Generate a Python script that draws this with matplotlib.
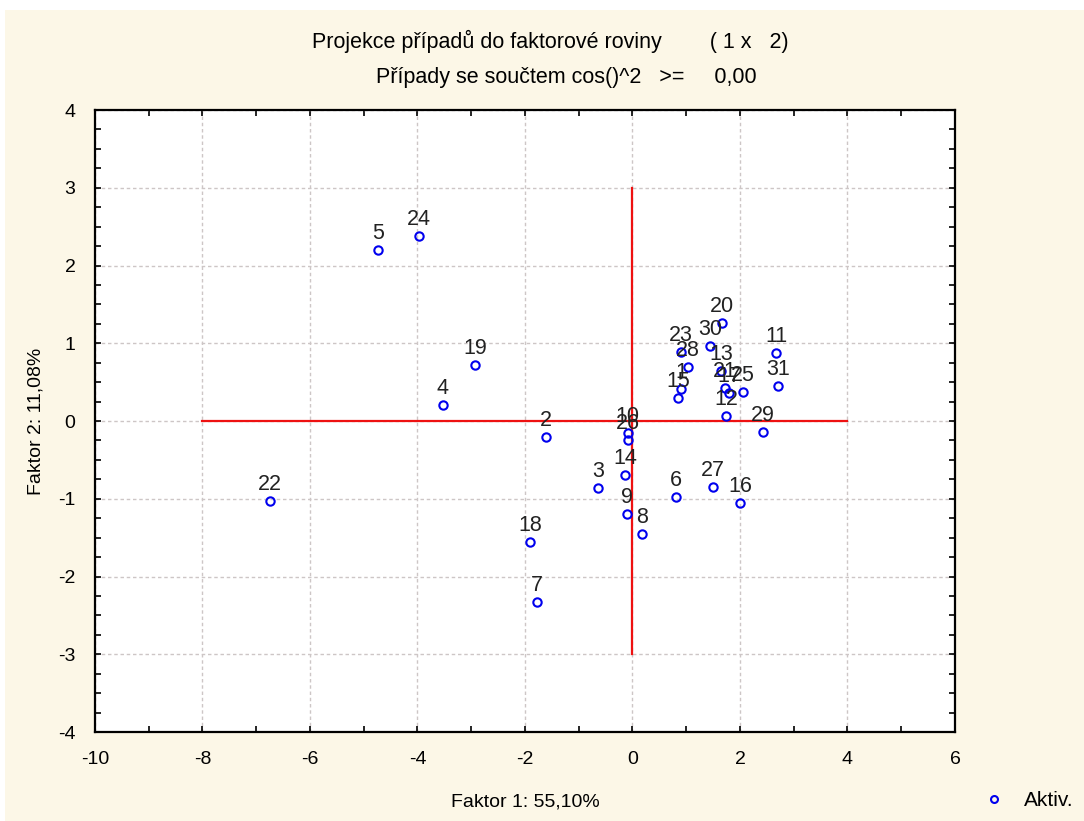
import matplotlib.pyplot as plt
from matplotlib.lines import Line2D
from matplotlib.ticker import MultipleLocator

plt.rcParams['font.family'] = ['Liberation Sans', 'DejaVu Sans']
plt.rcParams['axes.unicode_minus'] = False

# Case scores on the first two factors
cases = ['1', '2', '3', '4', '5', '6', '7', '8', '9', '10',
         '11', '12', '13', '14', '15', '16', '17', '18', '19', '20',
         '21', '22', '23', '24', '25', '26', '27', '28', '29', '30', '31']
faktor1 = [0.90, -1.61, -0.64, -3.53, -4.73, 0.81, -1.78, 0.18, -0.10, -0.09,
           2.67, 1.74, 1.65, -0.14, 0.85, 2.00, 1.80, -1.91, -2.93, 1.66,
           1.72, -6.74, 0.90, -3.97, 2.05, -0.09, 1.49, 1.03, 2.43, 1.44, 2.71]
faktor2 = [0.41, -0.21, -0.86, 0.21, 2.20, -0.98, -2.33, -1.45, -1.20, -0.16,
           0.87, 0.07, 0.64, -0.69, 0.29, -1.06, 0.36, -1.56, 0.72, 1.26,
           0.42, -1.03, 0.89, 2.38, 0.37, -0.25, -0.85, 0.69, -0.14, 0.96, 0.45]

bg = '#fcf7e7'
fig = plt.figure(figsize=(10.84, 8.21), dpi=100, facecolor='white')
fig.patches.append(plt.Rectangle((0.005, 0), 0.995, 0.988, transform=fig.transFigure,
                                 facecolor=bg, edgecolor='none', zorder=-10))

ax = fig.add_axes([0.0876, 0.1084, 0.7934, 0.7576])
ax.set_facecolor('white')

# red reference cross through the origin
ax.plot([-8, 4], [0, 0], color='#ee1111', lw=1.6, zorder=2)
ax.plot([0, 0], [-3, 3], color='#ee1111', lw=1.6, zorder=2)

ax.plot(faktor1, faktor2, 'o', ls='none', mfc='none', mec='#0000ee',
        ms=6, mew=1.5, zorder=3)
for lab, x, y in zip(cases, faktor1, faktor2):
    ax.annotate(lab, (x, y), xytext=(0, 6), textcoords='offset pixels',
                ha='center', va='bottom', fontsize=15.5, color='#222222', zorder=4)

ax.set_xlim(-10, 6)
ax.set_ylim(-4, 4)
ax.xaxis.set_major_locator(MultipleLocator(2))
ax.xaxis.set_minor_locator(MultipleLocator(1))
ax.yaxis.set_major_locator(MultipleLocator(1))
ax.yaxis.set_minor_locator(MultipleLocator(0.25))
ax.tick_params(which='both', direction='in', top=True, right=True,
               labelsize=14, length=4, width=1.2, color='black')
ax.tick_params(axis='x', pad=14)
ax.tick_params(axis='y', pad=14)
ax.grid(True, which='major', color='#cdc6c6', ls=(0, (2.5, 2)), lw=1, zorder=0)
for s in ax.spines.values():
    s.set_linewidth(1.6)

ax.set_xlabel('Faktor 1: 55,10%', fontsize=14, labelpad=18)
ax.set_ylabel('Faktor 2: 11,08%', fontsize=14, labelpad=10)

fig.text(0.508, 0.949, 'Projekce případů do faktorové roviny        ( 1 x   2)',
         ha='center', va='center', fontsize=15.5)
fig.text(0.522, 0.906, 'Případy se součtem cos()^2   >=     0,00',
         ha='center', va='center', fontsize=15.5)

handle = Line2D([], [], marker='o', ls='none', mfc='none', mec='#0000ee', ms=5, mew=1.5)
fig.legend([handle], ['Aktiv.'], loc='center', bbox_to_anchor=(0.948, 0.025),
           frameon=False, fontsize=15, handletextpad=0.8, handlelength=1.2)

fig.savefig('out.png', dpi=100, facecolor=fig.get_facecolor())
